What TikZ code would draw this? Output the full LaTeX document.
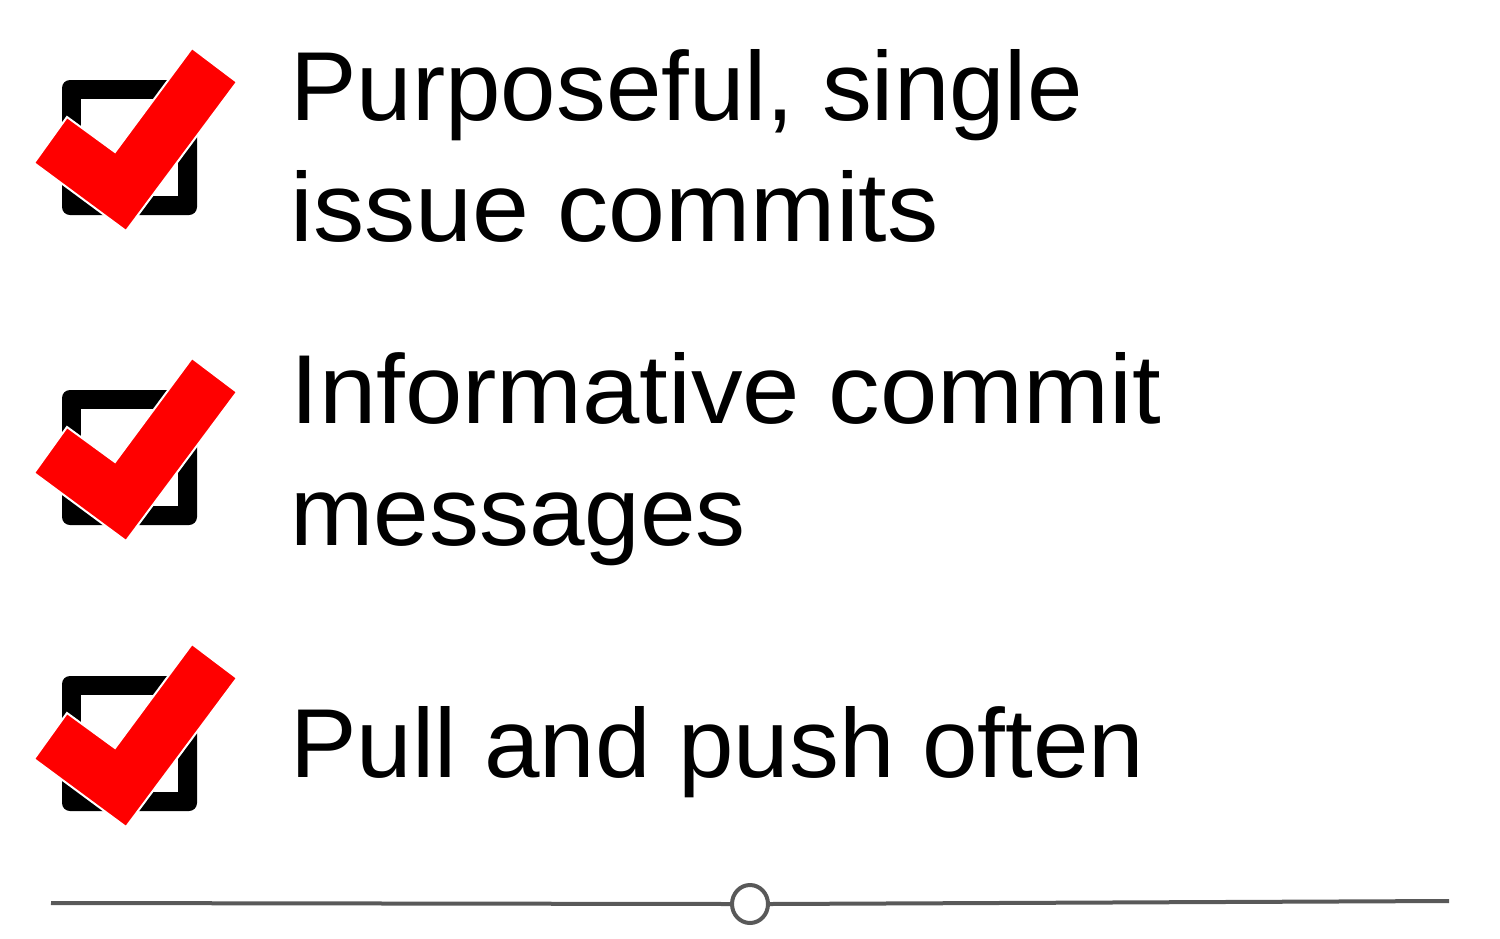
\documentclass[tikz,border=0pt]{standalone}
\usepackage{fontspec}
\setmainfont{Liberation Sans}
\usetikzlibrary{shapes.geometric}
\definecolor{checkred}{HTML}{FF0000}
\definecolor{rulegray}{HTML}{595959}
\tikzset{
  x=0.5pt, y=-0.5pt,
  itemtext/.style={anchor=base west, inner sep=0pt, font=\fontsize{49}{59}\selectfont},
  checkshape/.style={fill=checkred, draw=white, line width=1pt, line join=miter},
  pics/checkbox/.style={code={
    \fill[black, rounded corners=4pt] (62,80) rectangle (197,215);
    \fill[white] (81,99) rectangle (178,196);
    \draw[checkshape] (192,48) -- (237,82) -- (126,231) -- (34,163) -- (67,117) -- (115,152) -- cycle;
  }}
}
\begin{document}
\begin{tikzpicture}
\useasboundingbox (0,0) rectangle (1500,938);
\pic at (0,0) {checkbox};
\pic at (0,310) {checkbox};
\pic at (0,596) {checkbox};
\node[itemtext] (t1a) at (290,120) {\scalebox{1.017}[1]{Purposeful, single}};
\node[itemtext] (t1b) at (290,241) {\scalebox{1.044}[1]{issue commits}};
\node[itemtext] (t2a) at (290,423) {\scalebox{1.052}[1]{Informative commit}};
\node[itemtext] (t2b) at (290,545) {\scalebox{1.02}[1]{messages}};
\node[itemtext] (t3) at (290,777) {\scalebox{1.018}[1]{Pull and push often}};
\node[draw=rulegray, line width=2pt, ellipse, minimum width=18pt, minimum height=19pt, inner sep=0pt] (knob) at (750,904) {};
\coordinate (lend) at (51,903);
\coordinate (rend) at (1449,901);
\draw[rulegray, line width=2pt] (lend) -- (knob.west);
\draw[rulegray, line width=2pt] (knob.east) -- (rend);
\end{tikzpicture}
\end{document}
